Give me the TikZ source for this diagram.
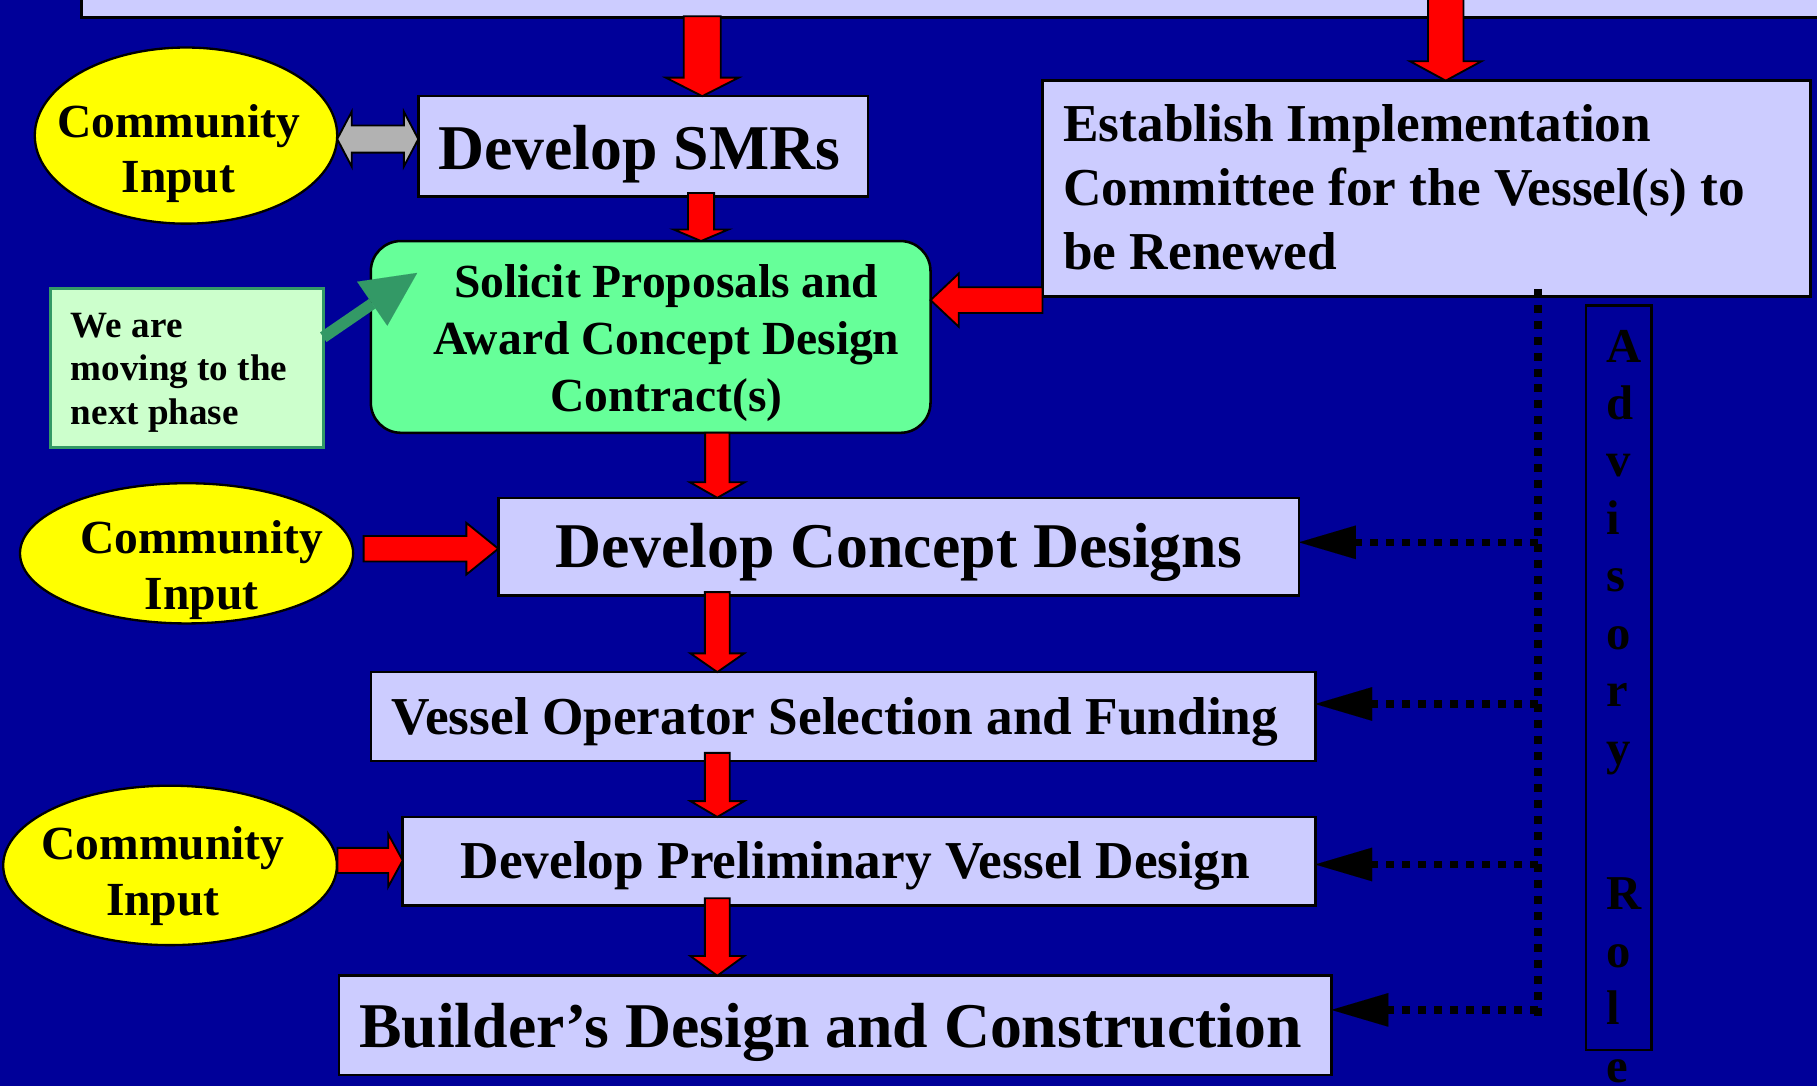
\documentclass[tikz,border=0pt]{standalone}
\usepackage{fontspec}
\setmainfont{Liberation Serif}
\usetikzlibrary{arrows.meta,shapes.geometric,calc}
\definecolor{bgblue}{HTML}{000099}
\definecolor{lav}{HTML}{CCCCFF}
\definecolor{redA}{HTML}{FF0000}
\definecolor{yel}{HTML}{FFFF00}
\definecolor{grn}{HTML}{66FF99}
\definecolor{palegrn}{HTML}{CCFFCC}
\definecolor{teal2}{HTML}{339966}
\definecolor{grayA}{HTML}{B2B2B2}
\tikzset{
  box/.style={draw=black, line width=2.2pt, fill=lav, inner sep=0pt, outer sep=0pt, anchor=north west},
  cinput/.style={ellipse, draw=black, line width=2pt, fill=yel, inner sep=0pt, outer sep=0pt},
  redarr/.style={fill=redA, draw=black, line width=1.6pt, line join=miter},
  grayarr/.style={fill=grayA, draw=black, line width=1.6pt, line join=miter},
  dots/.style={draw=black, line width=6.5pt, dash pattern=on 6.9pt off 6.9pt},
  dotarrow/.style={dots, -{Triangle[length=49pt,width=29pt,line width=0.01pt]}},
  bigtxt/.style={font=\fontsize{55}{66}\selectfont\bfseries, inner sep=0pt, outer sep=0pt},
  medtxt/.style={font=\fontsize{46}{55}\selectfont\bfseries, inner sep=0pt, outer sep=0pt},
  citxt/.style={font=\fontsize{41}{48}\selectfont\bfseries, align=center, inner sep=0pt, outer sep=0pt},
}
% down arrow: src, dst, x, shaft half, head half, head length, start offset
\newcommand\dnarr[7]{%
  \filldraw[redarr] let \p1=(#1.south), \p2=(#2.north) in
  (#3pt-#4pt,\y1+#7pt) -- (#3pt+#4pt,\y1+#7pt) -- (#3pt+#4pt,\y2+#6pt) -- (#3pt+#5pt,\y2+#6pt)
  -- (#3pt,\y2) -- (#3pt-#5pt,\y2+#6pt) -- (#3pt-#4pt,\y2+#6pt) -- cycle;}
% left arrow: src(west) -> dst(east), y, shaft half, head half, head len, start offset
\newcommand\ltarr[7]{%
  \filldraw[redarr] let \p1=(#1.west), \p2=(#2.east) in
  (\x1+#7pt,-#3pt+#4pt) -- (\x2+#6pt,-#3pt+#4pt) -- (\x2+#6pt,-#3pt+#5pt) -- (\x2,-#3pt)
  -- (\x2+#6pt,-#3pt-#5pt) -- (\x2+#6pt,-#3pt-#4pt) -- (\x1+#7pt,-#3pt-#4pt) -- cycle;}
% right arrow: src(east) -> dst(west)
\newcommand\rtarr[7]{%
  \filldraw[redarr] let \p1=(#1.east), \p2=(#2.west) in
  (\x1+#7pt,-#3pt+#4pt) -- (\x2-#6pt,-#3pt+#4pt) -- (\x2-#6pt,-#3pt+#5pt) -- (\x2,-#3pt)
  -- (\x2-#6pt,-#3pt-#5pt) -- (\x2-#6pt,-#3pt-#4pt) -- (\x1+#7pt,-#3pt-#4pt) -- cycle;}
\begin{document}
\begin{tikzpicture}[x=1pt,y=1pt]
\useasboundingbox (0,0) rectangle (1568,-937);
\fill[bgblue] (-5,5) rectangle (1573,-942);

% boxes
\node[box, anchor=south west, minimum width=1520pt, minimum height=40pt] (top) at (70.5,-15) {};
\node[box, minimum width=388pt, minimum height=86.5pt] (smr) at (361,-83) {};
\node[box, minimum width=663pt, minimum height=186.4pt] (est) at (899.6,-69.6) {};
\node[box, fill=grn, rounded corners=26pt, minimum width=483pt, minimum height=165.5pt] (sol) at (320,-208) {};
\node[box, fill=palegrn, draw=teal2, line width=2.6pt, minimum width=235.5pt, minimum height=137.4pt] (note) at (43.5,-249) {};
\node[box, minimum width=691pt, minimum height=84.4pt] (cd) at (430,-429.6) {};
\node[box, minimum width=815pt, minimum height=76.7pt] (vo) at (320,-580) {};
\node[box, minimum width=787.5pt, minimum height=76.2pt] (pre) at (347.5,-705) {};
\node[box, minimum width=856.5pt, minimum height=85.6pt] (bld) at (292.5,-842) {};
\node[box, fill=bgblue, minimum width=56.4pt, minimum height=642.6pt] (adv) at (1368.6,-263.4) {};

\node[cinput, minimum width=261pt, minimum height=152pt] (ci1) at (160.5,-117) {};
\node[cinput, minimum width=287.5pt, minimum height=121pt] (ci2) at (161,-477.5) {};
\node[cinput, minimum width=288pt, minimum height=137.6pt] (ci3) at (146.75,-746.8) {};

% texts (multi-line nodes: base anchor = last line's baseline)
\node[bigtxt, anchor=base] (smrT) at (551.5,-146) {Develop SMRs};
\node[medtxt, anchor=base west, align=left] (estT) at (917.6,-232.5) {Establish Implementation\\Committee for the Vessel(s) to\\be Renewed};
\node[font=\fontsize{41}{49.5}\selectfont\bfseries, align=center, anchor=base, inner sep=0pt] (solT) at (575,-355.5) {Solicit Proposals and\\Award Concept Design\\Contract(s)};
\node[font=\fontsize{32}{37.5}\selectfont\bfseries, align=left, anchor=base west, inner sep=0pt] (noteT) at (61,-366) {We are\\moving to the\\next phase};
\node[bigtxt, anchor=base] (cdT) at (775.5,-490) {Develop Concept Designs};
\node[medtxt, anchor=base west] (voT) at (338,-633.6) {Vessel Operator Selection and Funding};
\node[medtxt, anchor=base west] (preT) at (397.5,-758) {Develop Preliminary Vessel Design};
\node[bigtxt, anchor=base west] (bldT) at (310,-903.6) {Builder’s Design and Construction};
\node[citxt, anchor=base] (ci1T) at (154,-166.5) {Community\\Input};
\node[citxt, anchor=base] (ci2T) at (174,-525.6) {Community\\Input};
\node[citxt, anchor=base] (ci3T) at (140.5,-790) {Community\\Input};
\node[font=\fontsize{42}{49.6}\selectfont\bfseries, align=left, anchor=base west, inner sep=0pt] (advT) at (1386,-934) {A\\d\\v\\i\\s\\o\\r\\y\\[76pt]R\\o\\l\\e};

% red arrows
\dnarr{top}{smr}{606}{16}{31.5}{16}{1}
\dnarr{top}{est}{1247.6}{15.3}{31}{16.8}{20}
\dnarr{smr}{sol}{605}{11.25}{23.75}{10}{3}
\dnarr{sol}{cd}{619}{10.5}{23.75}{13.5}{0}
\dnarr{cd}{vo}{619}{10.75}{23.25}{16.2}{3}
\dnarr{vo}{pre}{619}{10.75}{23.25}{13.7}{7}
\dnarr{pre}{bld}{619}{10.75}{23.25}{17}{6}
\ltarr{est}{sol}{259}{11.1}{23}{24.4}{0}
\rtarr{ci2}{cd}{473.5}{11}{22.25}{27.5}{9}
\rtarr{ci3}{pre}{742.5}{10.8}{22.8}{12.5}{0.5}

% gray double arrow
\filldraw[grayarr] let \p1=(ci1.east), \p2=(smr.west) in
  (\x1,-120) -- (\x1+12.5pt,-120pt+23.7pt) -- (\x1+12.5pt,-120pt+11.7pt) -- (\x2-12.5pt,-120pt+11.7pt)
  -- (\x2-12.5pt,-120pt+23.7pt) -- (\x2,-120) -- (\x2-12.5pt,-120pt-23.7pt) -- (\x2-12.5pt,-120pt-11.7pt)
  -- (\x1+12.5pt,-120pt-11.7pt) -- (\x1+12.5pt,-120pt-23.7pt) -- cycle;

% green arrow
\draw[teal2, line width=10pt, -{Triangle[length=47pt,width=46pt,line width=0.01pt]}]
  ($(note.north east)+(0,-42)$) -- ($(sol.north west)+(40,-27.5)$);

% dotted advisory lines
\coordinate (vtop) at (1327,-249);
\coordinate (vbot) at (1327,-877);
\coordinate (h1) at (1327,-468);
\coordinate (h2) at (1327,-607.5);
\coordinate (h3) at (1327,-746);
\coordinate (h4) at (1327,-871.5);
\draw[dots] (vtop) -- (vbot);
\draw[dotarrow] (h1) -- (cd.east |- h1);
\draw[dotarrow] (h2) -- (vo.east |- h2);
\draw[dotarrow] (h3) -- (pre.east |- h3);
\draw[dotarrow] (h4) -- (bld.east |- h4);
\end{tikzpicture}
\end{document}
